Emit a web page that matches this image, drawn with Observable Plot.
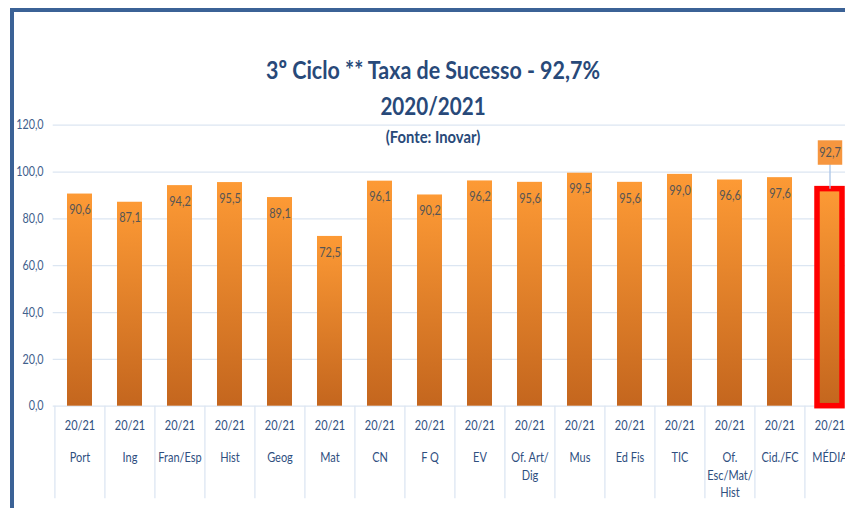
<!DOCTYPE html>
<html>
<head>
<meta charset="utf-8">
<script src="https://cdn.jsdelivr.net/npm/d3@7"></script>
<script src="https://cdn.jsdelivr.net/npm/@observablehq/plot@0.6"></script>
<style>
  html, body { margin: 0; padding: 0; background: #fff; }
  body { width: 845px; height: 508px; overflow: hidden; position: relative;
         font-family: Lato, "Open Sans", sans-serif; }
  #frame { position: absolute; left: 9.5px; top: 7.5px; width: 900px; height: 600px;
           border-left: 4px solid #3b6296; border-top: 4px solid #3b6296; box-sizing: border-box; }
  #chart { position: absolute; left: 0; top: 0; width: 860px; height: 508px; }
  #chart svg { max-width: none !important; }
  .t { position: absolute; left: 0; width: 866px; text-align: center; color: #284979;
       font-weight: bold; white-space: nowrap; line-height: 1; transform: scaleY(1.18);
       transform-origin: 50% 50%; }
</style>
</head>
<body>
<div id="frame"></div>
<div id="chart"></div>
<div class="t" id="t1" style="top:59.5px;font-size:21.45px;">3º Ciclo ** Taxa de Sucesso - 92,7%</div>
<div class="t" id="t2" style="top:95.5px;font-size:20.6px;">2020/2021</div>
<div class="t" id="t3" style="top:129px;font-size:14.8px;">(Fonte: Inovar)</div>
<script>
const categories = ["Port", "Ing", "Fran/Esp", "Hist", "Geog", "Mat", "CN", "F Q", "EV",
  "Of. Art/\nDig", "Mus", "Ed Fis", "TIC", "Of.\nEsc/Mat/\nHist", "Cid./FC", "MÉDIA"];
const values = [90.6, 87.1, 94.2, 95.5, 89.1, 72.5, 96.1, 90.2, 96.2, 95.6, 99.5, 95.6, 99.0, 96.6, 97.6, 92.7];
const yearLabel = "20/21";
const yTicks = [0, 20, 40, 60, 80, 100, 120];
const averageCategory = "MÉDIA";

const data = categories.map((c, i) => ({cat: c, value: values[i]}));
const subjects = data.filter(d => d.cat !== averageCategory);
const average = data.filter(d => d.cat === averageCategory);
const fmt = v => v.toFixed(1).replace(".", ",");
const font = 'Lato, "Open Sans", sans-serif';

const plot = Plot.plot({
  width: 860,
  height: 508,
  marginLeft: 52.7,
  marginRight: 4.1,
  marginTop: 124.7,
  marginBottom: 102.3,
  style: {fontFamily: font, background: "transparent", overflow: "visible", maxWidth: "none"},
  x: {type: "band", domain: categories, paddingInner: 0.5, paddingOuter: 0.25, axis: null},
  y: {domain: [0, 120], nice: false, axis: null},
  marks: [
    Plot.ruleY(yTicks, {stroke: "#dce6f2", strokeWidth: 1.3}),
    Plot.ruleX(categories, {x: d => d, y1: 0, y2: -39.5, dx: -25.1, stroke: "#dce6f2", strokeWidth: 1.3}),
    Plot.text(yTicks, {x: () => categories[0], y: d => d, text: d => fmt(d), dx: -36.4,
      textAnchor: "end", fontSize: 10.8, fill: "#41608c"}),
    Plot.barY(subjects, {x: "cat", y: "value", fill: "url(#barGrad)"}),
    Plot.barY(average, {x: "cat", y: "value", fill: "url(#barGrad)", stroke: "#ff0000", strokeWidth: 5.5}),
    Plot.text(subjects, {x: "cat", y: "value", text: d => fmt(d.value), dy: 16,
      fontSize: 11, fill: "#555555"}),
    Plot.ruleX(average, {x: "cat", y1: "value", y2: d => d.value + 10.6, stroke: "#a9c4e6", strokeWidth: 1.3}),
    Plot.dot(average, {x: "cat", y: "value", dy: -36.6, symbol: "square", r: 13.8, fill: "#f6963f", stroke: "none"}),
    Plot.text(average, {x: "cat", y: "value", text: d => fmt(d.value), dy: -36.6,
      fontSize: 11, fill: "#555555"}),
    Plot.text(categories, {x: d => d, y: 0, text: () => yearLabel, dy: 20,
      fontSize: 11, fill: "#2f4f7f"}),
    Plot.text(categories, {x: d => d, y: 0, text: d => d, dy: 43.5, lineAnchor: "top",
      lineHeight: 1.33, fontSize: 11, fill: "#2f4f7f"})
  ]
});

const svg = d3.select(plot);
svg.style("max-width", "none");
// Stretch text glyphs vertically like the reference's tall font
svg.selectAll("text").each(function() {
  const t = this.getAttribute("transform");
  if (t) this.setAttribute("transform", t + " scale(1,1.2)");
});
const defs = svg.insert("defs", ":first-child");
const g = defs.append("linearGradient").attr("id", "barGrad")
  .attr("x1", 0).attr("y1", 0).attr("x2", 0).attr("y2", 1);
g.append("stop").attr("offset", "0%").attr("stop-color", "#fd9a35");
g.append("stop").attr("offset", "100%").attr("stop-color", "#c4661e");

document.getElementById("chart").appendChild(plot);
</script>
</body>
</html>
